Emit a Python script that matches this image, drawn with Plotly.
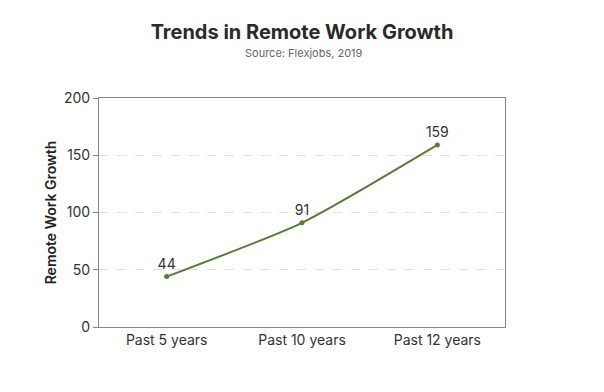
import plotly.graph_objects as go

categories = ["Past 5 years", "Past 10 years", "Past 12 years"]
values = [44, 91, 159]
y_ticks = [0, 50, 100, 150, 200]

fig = go.Figure()
fig.add_trace(go.Scatter(
    x=categories, y=values, mode="lines+markers+text",
    line=dict(color="#5b7a3c", width=2, shape="spline", smoothing=0.6),
    marker=dict(color="#5b7a3c", size=5),
    text=[str(v) for v in values], textposition="top center",
    textfont=dict(family="Inter", size=14, color="#333333"),
    cliponaxis=False, showlegend=False,
))

fig.update_layout(
    width=604, height=392,
    margin=dict(l=91, r=107, t=90, b=73),
    paper_bgcolor="white", plot_bgcolor="white",
    font=dict(family="Inter", color="#333333"),
    title=dict(
        text="<b>Trends in Remote Work Growth</b>",
        x=0.4868, xanchor="center", y=0.939, yanchor="middle",
        font=dict(family="Inter", size=20, color="#2a2a2a"),
    ),
    annotations=[dict(
        text="Source: Flexjobs, 2019", xref="paper", yref="paper",
        x=0.505, xanchor="center", y=1 + (98 - 53) / 229, yanchor="middle",
        showarrow=False, font=dict(family="Inter", size=11, color="#666666"),
    )],
    xaxis=dict(
        range=[-0.5, 2.5], showgrid=False, showline=True, linecolor="#888888", linewidth=1,
        mirror=True, ticks="", tickfont=dict(size=14, color="#333333"),
    ),
    yaxis=dict(
        range=[0, 200], tickvals=y_ticks, showgrid=True, gridcolor="#e0e0e0", griddash="dash",
        showline=True, linecolor="#888888", linewidth=1, mirror=True,
        ticks="outside", ticklen=5, tickcolor="#888888",
        tickfont=dict(size=14, color="#333333"), zeroline=False,
        title=dict(text="Remote Work Growth", font=dict(size=14, color="#222222", weight=600), standoff=4),
    ),
)

fig.write_html("out.html")
